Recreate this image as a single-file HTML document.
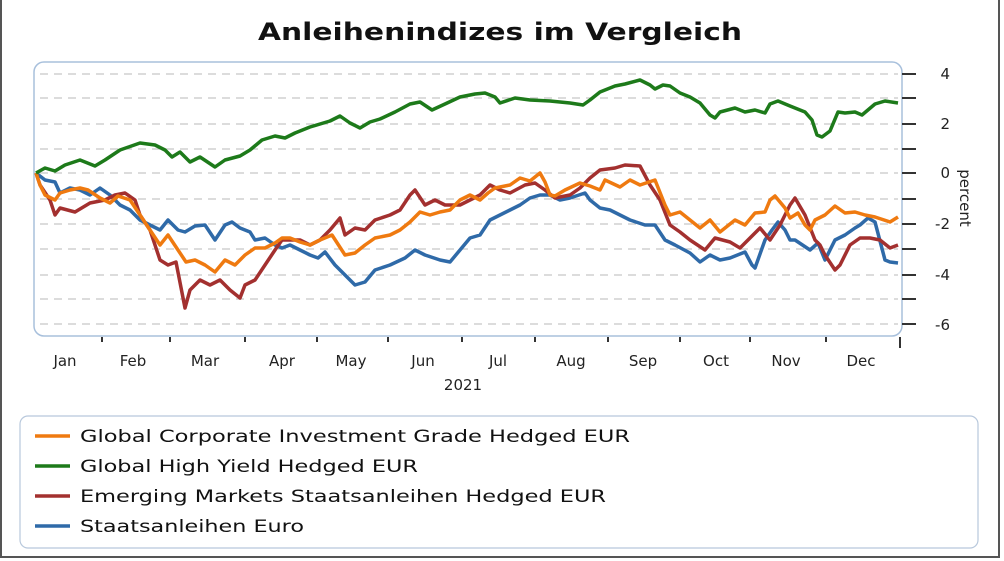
<!DOCTYPE html>
<html><head><meta charset="utf-8"><style>
html,body{margin:0;padding:0;background:#fff;}
svg{display:block;font-family:"DejaVu Sans","Liberation Sans",sans-serif;}
</style></head><body>
<svg width="1004" height="561" viewBox="0 0 1004 561" xmlns="http://www.w3.org/2000/svg">
<rect x="0" y="0" width="1004" height="561" fill="#fff"/>
<rect x="1" y="-2" width="998" height="559" fill="none" stroke="#555" stroke-width="2"/>
<text x="500" y="40" text-anchor="middle" font-size="24" font-weight="bold" fill="#111" textLength="484" lengthAdjust="spacingAndGlyphs">Anleihenindizes im Vergleich</text>
<rect x="34" y="62" width="868" height="274" rx="10" fill="#fff" stroke="#a8c0dc" stroke-width="1.5"/>
<g stroke="#c8c8c8" stroke-width="1.3" stroke-dasharray="8,6">
<line x1="40" x2="898" y1="74" y2="74"/><line x1="40" x2="898" y1="98" y2="98"/><line x1="40" x2="898" y1="124" y2="124"/><line x1="40" x2="898" y1="149" y2="149"/><line x1="40" x2="898" y1="173" y2="173"/><line x1="40" x2="898" y1="199" y2="199"/><line x1="40" x2="898" y1="224" y2="224"/><line x1="40" x2="898" y1="249" y2="249"/><line x1="40" x2="898" y1="275" y2="275"/><line x1="40" x2="898" y1="299" y2="299"/><line x1="40" x2="898" y1="324" y2="324"/>
</g>
<g stroke="#333" stroke-width="2">
<line x1="902" x2="916" y1="74" y2="74"/><line x1="902" x2="916" y1="98" y2="98"/><line x1="902" x2="916" y1="124" y2="124"/><line x1="902" x2="916" y1="149" y2="149"/><line x1="902" x2="916" y1="173" y2="173"/><line x1="902" x2="916" y1="199" y2="199"/><line x1="902" x2="916" y1="224" y2="224"/><line x1="902" x2="916" y1="249" y2="249"/><line x1="902" x2="916" y1="275" y2="275"/><line x1="902" x2="916" y1="299" y2="299"/><line x1="902" x2="916" y1="324" y2="324"/>
<line x1="102" x2="102" y1="337" y2="342"/><line x1="170" x2="170" y1="337" y2="342"/><line x1="245" x2="245" y1="337" y2="342"/><line x1="317" x2="317" y1="337" y2="342"/><line x1="388" x2="388" y1="337" y2="342"/><line x1="462" x2="462" y1="337" y2="342"/><line x1="535" x2="535" y1="337" y2="342"/><line x1="608" x2="608" y1="337" y2="342"/><line x1="680" x2="680" y1="337" y2="342"/><line x1="750" x2="750" y1="337" y2="342"/><line x1="826" x2="826" y1="337" y2="342"/><line x1="900" x2="900" y1="337" y2="348"/>
</g>
<g font-size="15" fill="#222" text-anchor="end">
<text x="950" y="79">4</text><text x="950" y="129">2</text><text x="950" y="178">0</text><text x="950" y="229">-2</text><text x="950" y="280">-4</text><text x="950" y="330">-6</text>
</g>
<text transform="translate(960,198) rotate(90)" font-size="15" fill="#222" text-anchor="middle">percent</text>
<g font-size="15" fill="#222" text-anchor="middle">
<text x="65" y="366">Jan</text><text x="133" y="366">Feb</text><text x="205" y="366">Mar</text><text x="282" y="366">Apr</text><text x="351" y="366">May</text><text x="423" y="366">Jun</text><text x="498" y="366">Jul</text><text x="571" y="366">Aug</text><text x="643" y="366">Sep</text><text x="716" y="366">Oct</text><text x="786" y="366">Nov</text><text x="861" y="366">Dec</text>
<text x="463" y="390">2021</text>
</g>
<g fill="none" stroke-width="3.5" stroke-linejoin="round">
<polyline stroke="#2f6aa8" points="36,173 45,180 55,182 60,193 70,188 80,190 90,195 100,188 110,195 120,205 130,210 140,220 150,225 160,230 168,220 178,230 185,232 195,226 205,225 215,240 225,225 232,222 240,228 250,232 255,240 265,238 275,245 282,248 290,245 300,250 310,255 318,258 325,252 335,265 345,275 355,285 365,282 375,270 390,265 405,258 415,250 425,255 440,260 450,262 460,250 470,238 480,235 490,220 500,215 510,210 520,205 530,198 540,195 550,195 560,200 570,198 585,193 590,200 600,208 610,210 620,215 630,220 645,225 655,225 665,240 675,245 690,253 700,262 710,255 720,260 730,258 745,252 752,265 755,268 765,240 772,230 778,222 785,230 790,240 795,240 810,250 818,243 825,260 835,240 845,235 855,228 860,225 868,218 875,222 885,260 890,262 898,263"/>
<polyline stroke="#a3302f" points="36,173 40,185 50,200 55,215 60,208 75,212 90,203 105,200 115,195 125,193 135,200 140,215 150,230 160,260 168,265 176,262 185,308 190,290 200,280 210,285 220,280 230,290 240,298 245,285 255,280 265,265 275,250 282,240 290,240 300,240 310,245 320,240 330,230 340,218 345,235 355,228 365,230 375,220 390,215 400,210 410,195 415,190 425,205 435,200 445,205 460,205 470,200 480,195 490,185 500,190 510,193 525,185 535,183 545,190 555,198 570,195 580,188 590,178 600,170 615,168 625,165 640,166 650,185 660,200 670,225 680,232 690,240 705,250 715,238 730,242 740,248 750,238 760,228 770,240 780,225 790,205 795,198 805,215 815,240 820,245 825,255 835,270 840,265 850,245 860,238 870,238 880,240 890,248 898,245"/>
<polyline stroke="#ef7a10" points="36,173 40,185 45,195 55,200 60,193 70,190 80,188 88,190 100,198 110,203 118,196 130,200 140,215 150,230 160,245 168,235 178,250 186,262 195,260 205,265 215,272 225,260 235,265 245,255 255,248 265,248 275,243 282,238 290,238 300,242 310,245 320,240 332,235 345,255 355,253 365,245 375,238 390,235 400,230 410,222 420,212 430,215 440,212 450,210 460,200 470,195 480,200 488,193 495,188 510,185 520,178 530,181 540,173 545,182 550,195 555,196 565,190 580,183 590,186 600,190 605,180 620,187 630,180 640,185 655,180 665,205 670,215 680,212 690,220 700,228 710,220 720,232 735,220 745,225 755,213 765,212 770,200 775,196 785,208 790,218 798,213 805,225 810,230 815,220 825,215 835,206 845,213 855,212 865,215 875,217 890,222 898,217"/>
<polyline stroke="#1d7a1a" points="36,173 45,168 55,171 65,165 80,160 95,166 105,160 120,150 140,143 155,145 165,150 172,157 180,152 190,162 200,157 215,167 225,160 240,156 250,150 262,140 275,136 285,138 295,133 310,127 330,121 340,116 350,123 360,128 370,122 380,119 395,112 410,104 420,102 432,110 445,104 460,97 475,94 485,93 495,97 500,103 515,98 530,100 550,101 570,103 583,105 590,100 600,92 615,86 625,84 640,80 650,85 655,89 663,85 670,86 680,93 690,97 700,103 710,115 715,118 720,112 735,108 745,112 755,110 765,113 770,104 778,101 790,106 805,112 812,120 817,135 822,137 830,131 838,112 845,113 855,112 862,115 875,104 885,101 898,103"/>
</g>
<rect x="20" y="416" width="958" height="132" rx="8" fill="#fff" stroke="#b8c8dc" stroke-width="1.2"/>
<g stroke-width="3.5">
<line x1="35" x2="70" y1="436" y2="436" stroke="#ef7a10"/>
<line x1="35" x2="70" y1="466" y2="466" stroke="#1d7a1a"/>
<line x1="35" x2="70" y1="496" y2="496" stroke="#a3302f"/>
<line x1="35" x2="70" y1="526" y2="526" stroke="#2f6aa8"/>
</g>
<g font-size="17" fill="#111">
<text x="80" y="442" textLength="550" lengthAdjust="spacingAndGlyphs">Global Corporate Investment Grade Hedged EUR</text>
<text x="80" y="472" textLength="338" lengthAdjust="spacingAndGlyphs">Global High Yield Hedged EUR</text>
<text x="80" y="502" textLength="526" lengthAdjust="spacingAndGlyphs">Emerging Markets Staatsanleihen Hedged EUR</text>
<text x="80" y="532" textLength="224" lengthAdjust="spacingAndGlyphs">Staatsanleihen Euro</text>
</g>
</svg>
</body></html>
